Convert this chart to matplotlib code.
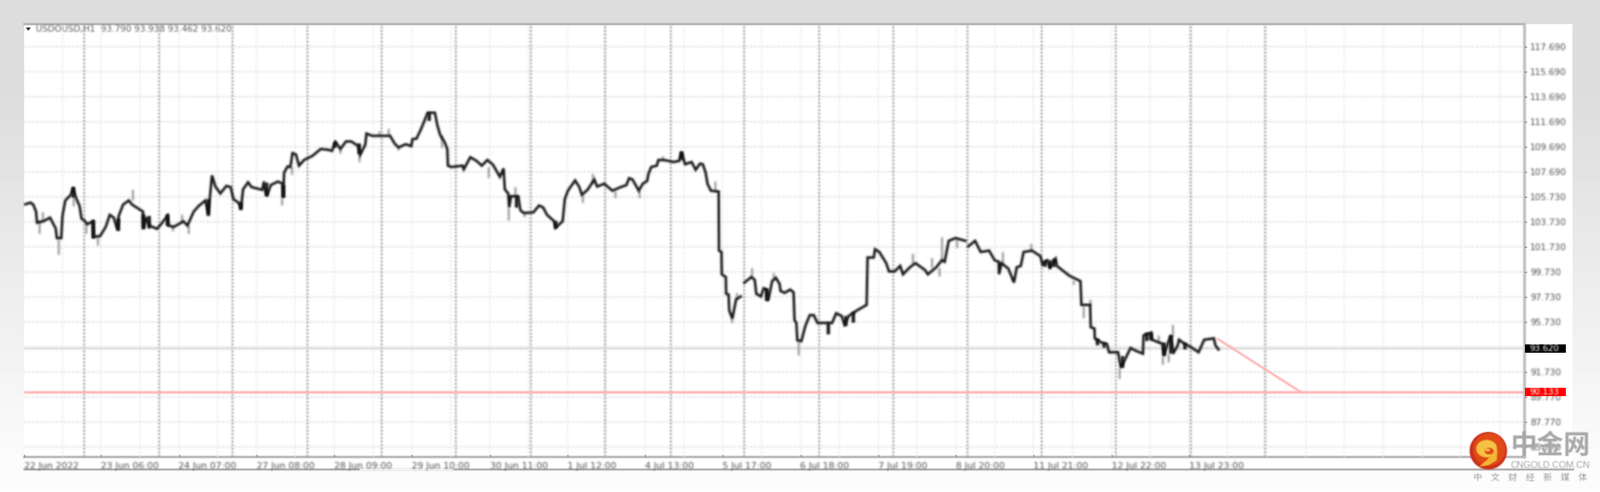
import numpy as np
import matplotlib
matplotlib.use("Agg")
import matplotlib.pyplot as plt
from matplotlib.patches import Rectangle, Circle, Ellipse, Polygon

nan = float("nan")
symbol_text = "USDOUSD,H1  93.790 93.938 93.462 93.620"
last_price = 93.620
target_price = 90.133
trend_hours = [384.3, 411.0]
trend_prices = [94.36, 90.133]

hours = [0.27,2.33,3.2,4.1,4.4,6.35,8.6,9.2,10.4,10.8,12.2,12.6,13.5,15.3,16.0,16.9,18.1,18.7,19.6,20.6,22.4,22.6,24.7,26.5,27.8,29.1,30.3,30.7,32.1,33.9,35.0,38.5,38.7,39.6,40.5,43.0,44.3,46.4,46.7,48.4,51.5,52.8,54.8,56.4,58.6,59.5,60.7,61.8,63.4,
 65.3,66.7,67.6,69.4,70.0,70.7,72.3,73.4,76.9,77.4,78.3,79.6,81.9,83.4,83.6,83.9,85.0,85.9,86.6,87.7,88.7,90.3,93.0,95.7,97.9,99.3,100.4,102.0,103.8,105.5,107.8,108.4,110.0,110.4,112.2,118.0,119.4,120.7,123.0,124.8,125.2,126.5,127.9,
 129.2,130.1,132.4,133.2,134.1,135.5,136.4,136.6,137.7,141.3,141.7,143.8,145.8,147.5,149.3,151.1,153.3,154.5,154.9,156.0,156.3,156.9,159.2,159.9,161.0,164.1,165.9,167.2,168.5,170.8,171.2,173.5,174.2,175.2,177.5,178.8,179.7,181.5,183.7,184.6,186.9,189.5,192.2,
 194.0,194.9,196.0,198.0,199.3,200.7,201.1,202.0,203.8,204.3,206.1,209.2,211.0,211.7,212.9,215.0,216.3,217.7,218.6,219.5,220.1,221.2,223.7,223.8,224.6,224.7,226.0,226.1,226.9,227.1,228.1,229.3,230.8,231.4,232.0,234.2,235.3,235.8,237.3,238.2,239.1,239.6,240.9,242.1,243.3,243.6,244.9,246.7,247.8,248.1,248.7,249.0,250.3,251.6,253.0,254.3,255.5,
 256.6,260.2,261.5,263.3,264.2,265.5,268.2,271.3,271.6,273.6,274.0,275.4,277.6,278.5,280.3,282.1,283.0,285.2,287.0,290.1,291.0,293.7,295.5,296.4,297.7,299.9,303.1,303.5,304.0,306.2,308.0,310.7,312.5,313.8,313.9,314.7,316.9,318.7,319.6,320.9,
 321.8,324.5,327.2,327.9,329.4,330.3,332.1,332.5,336.5,340.1,340.4,343.2,343.4,344.6,344.7,346.8,348.6,349.3,352.2,353.1,354.9,356.2,358.0,360.2,360.4,362.9,363.1,366.5,366.9,368.3,369.2,369.9,371.4,371.8,373.6,375.4,378.1,379.9,383.0,383.5,384.5]
prices = [105.09,105.25,105.09,104.53,103.65,103.76,104.05,103.76,103.2,102.42,102.42,104.2,105.42,105.87,106.42,105.65,104.98,103.98,103.83,103.53,103.76,102.53,102.58,103.31,104.27,104.05,103.09,104.2,105.09,105.42,105.09,104.53,103.2,104.09,103.42,103.16,103.53,104.2,103.42,103.31,103.76,103.42,104.53,104.98,105.42,104.36,107.42,106.53,105.98,
 106.58,106.49,105.53,105.2,104.76,106.31,106.87,106.49,106.27,106.93,105.76,106.65,106.93,106.76,105.65,107.65,108.13,108.09,109.2,109.09,108.2,108.65,108.98,109.53,109.47,109.38,110.09,109.53,110.13,110.13,109.76,109.09,109.87,110.76,110.58,110.58,109.98,109.65,109.91,109.76,110.31,110.36,111.09,
 111.87,112.42,112.42,111.42,110.65,110.09,109.53,108.2,108.09,108.2,107.91,108.87,108.58,108.2,108.65,108.27,107.31,107.98,106.31,105.98,104.87,105.76,105.76,104.65,104.42,104.47,105.02,104.87,104.27,103.76,103.25,103.76,105.53,106.2,107.02,106.53,105.87,106.27,107.09,106.53,106.76,106.2,106.49,
 106.65,107.2,107.09,106.2,106.76,106.98,107.53,108.09,108.2,108.65,108.65,108.49,108.58,109.31,108.31,108.49,107.87,108.36,108.31,107.65,106.76,106.2,106.13,101.42,101.31,99.53,99.31,97.98,97.91,96.65,95.98,97.53,97.76,nan,98.87,99.31,99.09,97.98,97.76,98.42,98.31,97.42,98.98,99.25,98.76,98.2,98.05,98.31,98.09,95.87,95.65,94.27,94.2,95.42,96.27,96.27,95.65,
 95.65,95.65,96.42,96.2,95.53,96.2,96.65,97.09,100.87,100.87,101.53,101.31,100.42,99.76,99.76,100.2,99.53,100.09,100.42,99.87,99.53,100.09,100.65,100.53,102.2,102.42,102.2,nan,101.76,102.2,101.31,101.42,100.65,100.53,99.53,100.42,99.98,98.87,100.09,100.2,
 101.31,101.42,100.98,100.31,100.65,100.09,100.76,100.2,99.42,98.98,97.09,97.09,95.31,95.2,94.42,94.09,93.98,93.31,93.31,92.09,92.98,93.65,93.42,93.2,94.65,94.87,94.31,93.98,93.09,94.09,94.65,93.2,93.87,94.31,93.98,93.76,93.31,94.31,94.42,93.87,93.53]

wick_hours = [5.0,6.2,11.3,16.2,20.2,23.8,35.1,47.9,50.9,53.0,83.2,86.3,108.0,102.0,114.5,117.3,120.7,156.0,158.1,149.6,179.9,183.1,190.4,134.6,161.1,222.4,234.2,241.3,227.9,249.4,198.0,229.5,205.6,295.5,286.1,292.3,294.6,315.1,300.4,341.0,343.2,337.9,352.6,369.6,366.5,368.3,324.0,365.1]
wick_highs = [103.87,104.53,102.31,105.65,103.64,102.53,106.31,103.42,104.31,103.42,105.65,108.09,109.09,109.53,110.98,111.2,109.65,104.87,106.53,108.09,105.87,107.6,106.2,110.65,104.42,106.98,100.05,99.65,95.98,94.2,106.2,98.09,108.98,102.53,101.2,100.87,100.09,101.31,102.31,97.0,97.53,99.09,92.09,95.53,93.0,93.2,101.98,94.65]
wick_lows = [102.76,103.76,101.09,104.98,102.76,101.87,105.42,102.98,103.64,102.76,105.02,107.53,108.49,109.16,110.65,110.65,109.47,103.87,105.76,107.25,105.25,106.76,105.65,109.65,104.13,106.2,99.31,99.2,95.65,93.09,105.65,97.53,108.65,100.65,100.42,100.09,99.42,100.42,101.65,96.09,97.09,98.76,91.2,94.53,92.31,92.53,101.42,94.09]

body_hours = [16.2,22.6,30.5,38.7,40.5,46.4,59.5,78.3,83.6,70.0,100.4,108.0,130.6,158.7,171.2,239.1,211.7,259.1,264.6,266.9,361.4,362.7,366.9,369.2,373.6,347.7,353.5,328.7,330.3,331.6,345.6]
body_tops = [106.53,103.87,104.0,104.3,104.2,104.3,105.5,106.87,106.65,105.25,110.13,109.98,112.42,105.76,103.76,98.42,109.31,95.65,96.2,96.53,94.87,94.87,94.1,94.65,94.1,94.1,93.0,100.65,100.65,100.76,94.4]
body_bottoms = [105.65,102.42,103.0,103.1,103.2,103.4,104.2,105.76,105.65,104.65,109.65,109.09,111.76,104.87,103.2,97.4,108.65,94.76,95.4,95.65,94.2,94.27,93.0,93.2,93.55,93.65,92.1,100.1,99.98,100.1,93.9]

y_ticks = [117.69,115.69,113.69,111.69,109.69,107.69,105.73,103.73,101.73,99.73,97.73,95.73,93.73,91.73,89.77,87.77,85.77]
y_labels = ["117.690","115.690","113.690","111.690","109.690","107.690","105.730","103.730","101.730","99.730","97.730","95.730","","91.730","89.770","87.770","85.770"]
x_tick_hours = [0.3,25,50,75,100,125,150,175,200,225,250,275,300,325,350,375]
x_labels = ["22 Jun 2022","23 Jun 06:00","24 Jun 07:00","27 Jun 08:00","28 Jun 09:00","29 Jun 10:00","30 Jun 11:00","1 Jul 12:00","4 Jul 13:00","5 Jul 17:00","6 Jul 18:00","7 Jul 19:00","8 Jul 20:00","11 Jul 21:00","12 Jul 22:00","13 Jul 23:00"]
day_seps = [19.7,43.6,67.4,91.4,115.3,139.1,163.3,187.1,208.2,232.0,255.9,279.8,303.8,327.6,351.6,375.6,399.5]
minor_seps = [12.5 * k for k in range(1, 39)]

W, H = 1920, 590
PT = 0.72


def smooth_axis(a, sigma, axis):
    r = int(3 * sigma + 1)
    x = np.arange(-r, r + 1)
    k = np.exp(-x ** 2 / (2 * sigma ** 2))
    k /= k.sum()
    return np.apply_along_axis(lambda v: np.convolve(v, k, mode="same"), axis, a)


def blur(sigma):
    def f(img, dpi):
        pad = int(3 * sigma + 2)
        src = np.pad(img, [(pad, pad), (pad, pad), (0, 0)], "constant")
        a = src[:, :, 3:4]
        pm = src[:, :, :3] * a
        both = np.concatenate([pm, a], axis=2)
        both = smooth_axis(smooth_axis(both, sigma, 0), sigma, 1)
        al = both[:, :, 3:4]
        rgb = np.where(al > 1e-4, both[:, :, :3] / np.maximum(al, 1e-4), 0)
        return np.concatenate([np.clip(rgb, 0, 1), al], axis=2), -pad, -pad
    return f


fig = plt.figure(figsize=(W / 100, H / 100), dpi=100)

# page background
bg = fig.add_axes([0, 0, 1, 1], zorder=0)
bg.set_xlim(0, W)
bg.set_ylim(H, 0)
bg.axis("off")
rows = np.clip(222 + (np.arange(H) - 130) / 430 * 30, 221, 252)
grad = np.repeat(rows[:, None], 8, axis=1)
grad[588:] = 255
bg.imshow(grad, cmap="gray", vmin=0, vmax=255, extent=[0, W, H, 0], aspect="auto")
bg.set_xlim(0, W)
bg.set_ylim(H, 0)
bg.add_patch(Rectangle((29, 29), 1858, 534, fc="white", ec="none"))
b = bg.plot([29, 1888], [563, 563], color="#9a9a9a", lw=2 * PT)[0]
b.set_agg_filter(blur(0.7))
bg.plot([433, 543], [563, 563], color="#f4f4f4", lw=2.5 * PT)

# chart
L, R, T, B = 29, 1829, 29, 548
ax = fig.add_axes([L / W, 1 - B / H, (R - L) / W, (B - T) / H], zorder=2)
ax.patch.set_alpha(0)
px_per_h = 3.73
ax.set_xlim((L - 28) / px_per_h, (R - 28) / px_per_h)
scale = 15.03
ax.set_ylim(117.69 - (B - 56) / scale, 117.69 + (56 - T) / scale)

S = 1.15
gy = [ax.axhline(v, color="#e0e0e0", lw=1.7 * PT, ls=(0, (1.6, 1.2)), zorder=1) for v in y_ticks]
g1 = [ax.axvline(v, color="#ebebeb", lw=1.8 * PT, ls=(0, (1.4, 1.2)), zorder=1) for v in minor_seps]
g2 = [ax.axvline(v, color="#a6a6a6", lw=2.4 * PT, ls=(0, (1.0, 0.8)), zorder=1.5) for v in day_seps]
for a in gy + g1 + g2:
    a.set_agg_filter(blur(0.95))

l = ax.axhline(last_price, color="#dcdcdc", lw=2.4 * PT, zorder=1.6)
l.set_agg_filter(blur(0.8))
l = ax.axhline(target_price, color="#ffaeb0", lw=2.8 * PT, zorder=1.7)
l.set_agg_filter(blur(0.8))
l = ax.plot(trend_hours, trend_prices, color="#ffaeb0", lw=2.4 * PT, zorder=1.7)[0]
l.set_agg_filter(blur(0.7))

w = ax.vlines(wick_hours, wick_lows, wick_highs, color="#a0a0a0", lw=2.6 * PT, zorder=2)
w.set_agg_filter(blur(S))
bd = ax.vlines(body_hours, body_bottoms, body_tops, color="#1e1e1e", lw=4.2 * PT, zorder=3)
bd.set_agg_filter(blur(S))
m = ax.plot(hours, prices, color="#141414", lw=3.0 * PT, solid_joinstyle="miter", zorder=3)[0]
m.set_agg_filter(blur(S))

# axes frame
for s in ax.spines.values():
    s.set_visible(False)
for args, lw_, col in [(([L, R], [B, B]), 2.4, "#a6a6a6"), (([L, R], [T, T]), 2.0, "#a0a0a0"), (([R, R], [T, B]), 3.4, "#bdbdbd")]:
    f = bg.plot(*args, color=col, lw=lw_ * PT, zorder=4)[0]
    f.set_agg_filter(blur(0.7))

ax.yaxis.tick_right()
ax.set_yticks(y_ticks, y_labels)
ax.set_xticks(x_tick_hours, x_labels)
ax.tick_params(axis="y", length=2, width=1, color="#888888", pad=3.2, labelsize=7.7, labelcolor="#4a4a4a")
ax.tick_params(axis="x", length=2, width=1, color="#888888", direction="in", pad=4.5, labelsize=7.95, labelcolor="#4a4a4a")
for t in ax.get_xticklabels():
    t.set_ha("left")
    t.set_agg_filter(blur(1.1))
for t in ax.get_yticklabels():
    t.set_agg_filter(blur(1.1))

trans = ax.get_yaxis_transform()
for val, txt, fc in [(last_price, "93.620", "#000000"), (target_price, "90.133", "#ff0000")]:
    ax.add_patch(Rectangle((1.0008, val - 0.33), 0.0272, 0.66, transform=trans, fc=fc, ec="none",
                           clip_on=False, zorder=5.5))
    ty = ax.text(1.0135, val, txt, transform=trans, color="white", fontsize=7.4, ha="center", va="center",
                 clip_on=False, zorder=6)
    ty.set_agg_filter(blur(0.9))

hdr = bg.text(43, 35, symbol_text, fontsize=7.6, color="#555555", ha="left", va="center", zorder=5)
hdr.set_agg_filter(blur(1.0))
arr = bg.add_patch(Polygon([[31, 33], [37, 33], [34, 37]], fc="#333333", ec="none", zorder=5))

# watermark logo
lg = fig.add_axes([0, 0, 1, 1], zorder=5)
lg.set_xlim(0, W)
lg.set_ylim(H, 0)
lg.axis("off")
parts = [
    Circle((1786, 540.5), 22.5, fc="#c9301a", ec="none"),
    Circle((1787, 539), 19.5, fc="#e04a17", ec="none"),
    Ellipse((1784, 538), 25, 21, fc="#f6c344", ec="none"),
    Polygon([[1797, 540], [1796, 552], [1786, 558], [1775, 559.5], [1785, 551], [1790, 544]], fc="#f7b733", ec="none"),
    Ellipse((1787, 541), 11, 8, fc="#e04a17", ec="none"),
    Ellipse((1785, 539.5), 6, 3.6, fc="#f6c344", ec="none"),
]
for p in parts:
    lg.add_patch(p)
    p.set_agg_filter(blur(0.6))
cj = ["Noto Sans CJK SC", "DejaVu Sans"]
t1 = lg.text(1860.5, 535, "中金网", family=cj, fontsize=23, fontweight="bold", color="#a8a8a8", ha="center", va="center")
t2 = lg.text(1860, 558, "CNGOLD.COM.CN", family="Liberation Sans", fontsize=8.0, color="#a0a0a0", ha="center", va="center")
t3 = lg.text(1836, 572.5, "中\u3000文\u3000财\u3000经\u3000新\u3000媒\u3000体", family=cj, fontsize=7.6, color="#999999", ha="center", va="center")
for t in (t1, t2, t3):
    t.set_agg_filter(blur(0.6))

fig.savefig("out.png", dpi=100)
